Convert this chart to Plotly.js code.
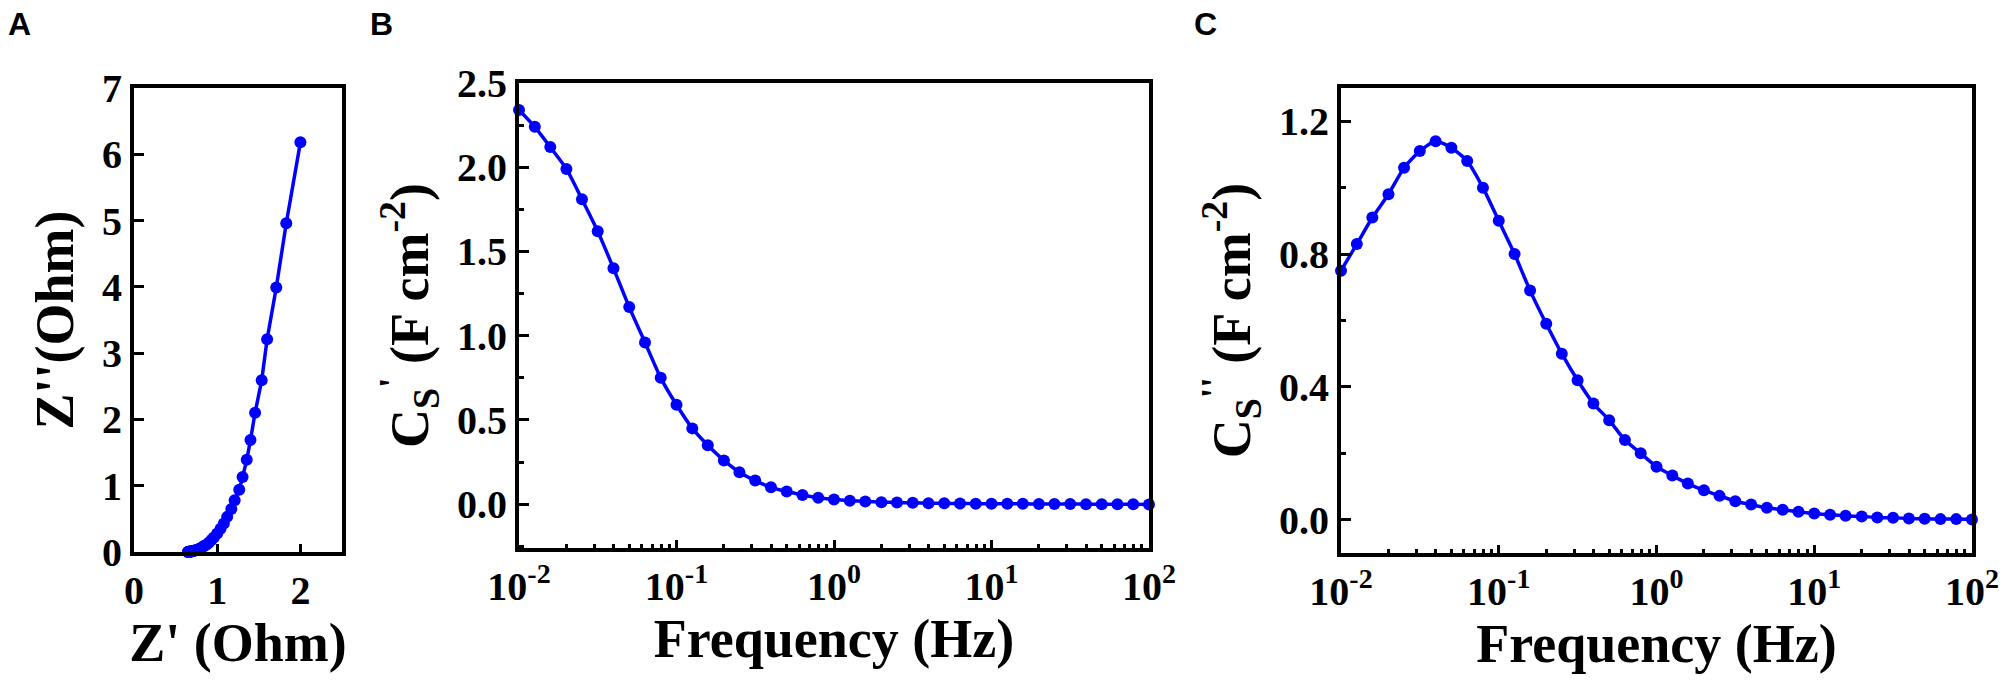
<!DOCTYPE html>
<html>
<head>
<meta charset="utf-8">
<script src="https://cdn.plot.ly/plotly-3.0.1.min.js"></script>
<style>
  html, body { margin: 0; padding: 0; background: #fff; }
  #fig { width: 2006px; height: 692px; }
</style>
</head>
<body>
<div id="fig"></div>
<script>
// Impedance data of one electrode.
// Frequencies are the measured sweep (10 points per decade, 0.01 - 100 Hz).
const freq = [0.01, 0.0126, 0.0158, 0.02, 0.0251, 0.0316, 0.0398, 0.0501, 0.0631, 0.0794,
  0.1, 0.126, 0.158, 0.2, 0.251, 0.316, 0.398, 0.501, 0.631, 0.794,
  1, 1.26, 1.58, 2, 2.51, 3.16, 3.98, 5.01, 6.31, 7.94,
  10, 12.6, 15.8, 20, 25.1, 31.6, 39.8, 50.1, 63.1, 79.4, 100];

// panel A: Nyquist plot, Z' vs Z'' (Ohm), low frequency first
const zReal = [2.00, 1.83, 1.71, 1.60, 1.535, 1.455, 1.40, 1.355, 1.305, 1.265,
  1.21, 1.17, 1.12, 1.08, 1.04, 1.00, 0.96, 0.93, 0.90, 0.87,
  0.84, 0.82, 0.80, 0.78, 0.76, 0.74, 0.73, 0.72, 0.71, 0.70,
  0.69, 0.68, 0.68, 0.67, 0.67, 0.66, 0.66, 0.66, 0.65, 0.65, 0.65];
const zImag = [6.18, 4.96, 3.99, 3.21, 2.59, 2.10, 1.69, 1.39, 1.13, 0.94,
  0.78, 0.65, 0.53, 0.43, 0.35, 0.28, 0.22, 0.18, 0.14, 0.11,
  0.09, 0.07, 0.055, 0.045, 0.035, 0.028, 0.022, 0.018, 0.014, 0.011,
  0.009, 0.007, 0.006, 0.005, 0.004, 0.003, 0.003, 0.002, 0.002, 0.001, 0.001];

// panel B: real capacitance Cs' (F cm-2)
const csReal = [2.34, 2.24, 2.12, 1.99, 1.81, 1.62, 1.40, 1.17, 0.96, 0.75,
  0.59, 0.45, 0.35, 0.26, 0.19, 0.14, 0.10, 0.075, 0.055, 0.038,
  0.028, 0.021, 0.016, 0.012, 0.010, 0.008, 0.006, 0.005, 0.004, 0.003,
  0.003, 0.002, 0.002, 0.001, 0.001, 0.001, 0.000, 0.000, 0.000, -0.001, -0.002];

// panel C: imaginary capacitance Cs'' (F cm-2)
const csImag = [0.75, 0.83, 0.91, 0.98, 1.06, 1.11, 1.14, 1.12, 1.08, 1.00,
  0.90, 0.80, 0.69, 0.59, 0.50, 0.42, 0.35, 0.30, 0.24, 0.20,
  0.16, 0.133, 0.109, 0.089, 0.072, 0.056, 0.046, 0.036, 0.030, 0.024,
  0.019, 0.015, 0.012, 0.010, 0.007, 0.006, 0.004, 0.003, 0.002, 0.002, 0.001];

const decadeTicks = [0.01, 0.1, 1, 10, 100];
const decadeText = ['10<sup>-2</sup>', '10<sup>-1</sup>', '10<sup>0</sup>', '10<sup>1</sup>', '10<sup>2</sup>'];
const minorLogTicks = [];
[0.01, 0.1, 1, 10].forEach(function (d) {
  for (let m = 2; m <= 9; m++) minorLogTicks.push(m * d);
});

const BLUE = '#0000ff';
const SERIF = 'Liberation Serif, Times New Roman, serif';
const tickFont = { family: SERIF, size: 40, color: '#000', weight: 'bold' };
const titleFont = { family: SERIF, size: 54, color: '#000', weight: 'bold' };

function frameAxis(extra) {
  return Object.assign({
    showline: true,
    mirror: true,
    linecolor: '#000',
    linewidth: 4,
    showgrid: false,
    zeroline: false,
    ticks: 'inside',
    ticklen: 10,
    tickwidth: 3,
    tickcolor: '#000',
    tickfont: tickFont
  }, extra);
}

function logX(domain, anchor) {
  return frameAxis({
    domain: domain,
    anchor: anchor,
    type: 'log',
    range: [-2, 2],
    tickmode: 'array',
    tickvals: decadeTicks,
    ticktext: decadeText,
    ticklen: 8,
    minor: { ticks: 'inside', ticklen: 4, tickwidth: 3, tickcolor: '#000', tickmode: 'array', tickvals: minorLogTicks },
    title: { text: '<b>Frequency (Hz)</b>', font: titleFont, standoff: 6 }
  });
}

function series(x, y, xa, ya, shape) {
  return {
    x: x, y: y, xaxis: xa, yaxis: ya,
    type: 'scatter',
    mode: 'lines+markers',
    line: { color: BLUE, width: 3.5, shape: shape, smoothing: 0.6 },
    marker: { color: BLUE, size: 12 },
    cliponaxis: false,
    showlegend: false,
    hoverinfo: 'x+y'
  };
}

const W = 2006, H = 692;
const px = (a, b) => [a / W, b / W];
const py = (top, bottom) => [(H - bottom) / H, (H - top) / H];

const traces = [
  series(zReal, zImag, 'x', 'y', 'linear'),
  series(freq, csReal, 'x2', 'y2', 'spline'),
  series(freq, csImag, 'x3', 'y3', 'spline')
];

const layout = {
  width: W,
  height: H,
  margin: { l: 0, r: 0, t: 0, b: 0 },
  paper_bgcolor: '#fff',
  plot_bgcolor: '#fff',
  font: { family: SERIF, color: '#000' },
  xaxis: frameAxis({
    domain: px(134, 342), anchor: 'y', range: [0, 2.5], dtick: 1, tick0: 0,
    ticklen: 8,
    title: { text: "<b>Z' (Ohm)</b>", font: titleFont, standoff: 4 }
  }),
  yaxis: frameAxis({
    domain: py(88, 552), anchor: 'x', range: [0, 7], dtick: 1, tick0: 0,
    title: { text: "<b>Z''(Ohm)</b>", font: titleFont, standoff: 12 }
  }),
  xaxis2: logX(px(519, 1149), 'y2'),
  yaxis2: frameAxis({
    domain: py(83, 548), anchor: 'x2', range: [-0.26, 2.5], dtick: 0.5, tick0: 0,
    tickformat: '.1f',
    minor: { ticks: 'inside', ticklen: 5, tickwidth: 3, tickcolor: '#000', dtick: 0.25, tick0: 0 },
    title: { text: "<b>C<sub>S</sub><sup>'</sup> (F cm<sup>-2</sup>)</b>", font: titleFont, standoff: 12 }
  }),
  xaxis3: logX(px(1341, 1972), 'y3'),
  yaxis3: frameAxis({
    domain: py(88, 553), anchor: 'x3', range: [-0.1, 1.3], dtick: 0.4, tick0: 0,
    tickformat: '.1f',
    minor: { ticks: 'inside', ticklen: 5, tickwidth: 3, tickcolor: '#000', dtick: 0.2, tick0: 0 },
    title: { text: "<b>C<sub>S</sub><sup>''</sup> (F cm<sup>-2</sup>)</b>", font: titleFont, standoff: 12 }
  }),
  annotations: [
    ['A', 6], ['B', 368], ['C', 1192]
  ].map(function (p) {
    return {
      text: '<b>' + p[0] + '</b>',
      xref: 'paper', yref: 'paper',
      x: p[1] / W, y: 1 - 4 / H,
      xanchor: 'left', yanchor: 'top',
      showarrow: false,
      font: { family: 'Liberation Sans, Arial, sans-serif', size: 32, color: '#000', weight: 'bold' }
    };
  })
};

Plotly.newPlot('fig', traces, layout, { displayModeBar: false, staticPlot: true });
</script>
</body>
</html>
